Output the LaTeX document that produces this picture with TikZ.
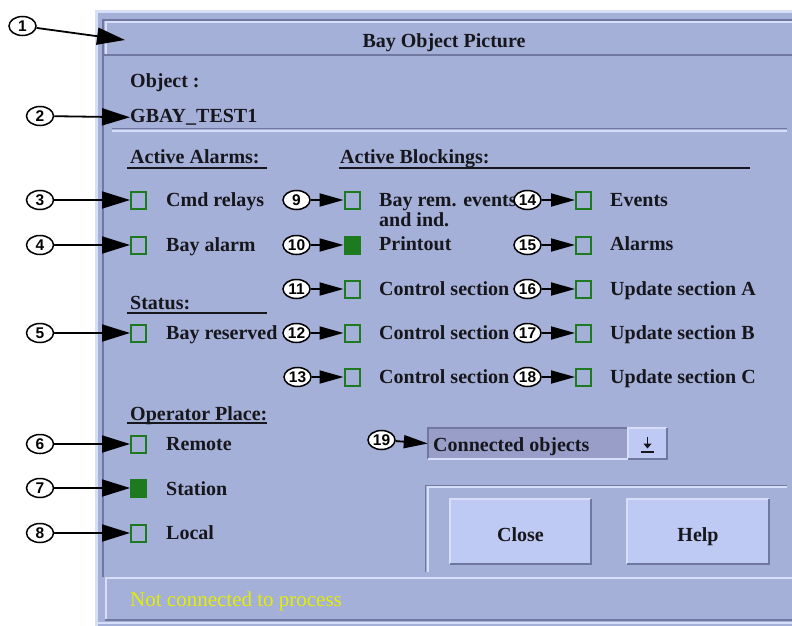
\documentclass[tikz,border=0pt]{standalone}
\usepackage{fontspec}
\setmainfont{Liberation Serif}
\newfontfamily\calloutfamily{Liberation Sans}
\usetikzlibrary{arrows.meta,shapes.geometric}

\definecolor{panel}{RGB}{164,176,215}
\definecolor{hilite}{RGB}{214,222,248}
\definecolor{shade}{RGB}{112,120,160}
\definecolor{btnface}{RGB}{190,202,243}
\definecolor{fieldface}{RGB}{152,158,200}
\definecolor{chk}{RGB}{30,122,30}
\definecolor{msg}{RGB}{228,238,0}
\definecolor{ink}{RGB}{22,22,28}

\begin{document}
\begin{tikzpicture}[x=1pt,y=-1pt,
  uitext/.style={font=\fontsize{20}{21}\selectfont\bfseries, text=ink, inner sep=0pt},
  lbl/.style={uitext, anchor=base west},
  chkbox/.style={draw=chk, line width=2pt, minimum width=15pt, minimum height=17pt, inner sep=0pt},
  chkon/.style={chkbox, fill=chk},
  callout/.style={ellipse, draw, line width=1.5pt, fill=white, minimum width=27pt,
    minimum height=19pt, inner sep=0pt, font=\calloutfamily\fontsize{15.5}{15.5}\selectfont\bfseries},
  bigarrow/.style={line width=1.8pt, -{Triangle[length=28pt,width=17pt]}},
  smallarrow/.style={line width=1.8pt, -{Triangle[length=24pt,width=13pt]}},
  underline/.style={line width=1.5pt, draw=ink},
  darkedge/.style={draw=shade, line width=1.5pt},
  lightedge/.style={draw=hilite, line width=2pt},
  btn/.style={fill=btnface, minimum width=141pt, minimum height=65pt, inner sep=0pt}
]
\useasboundingbox (0,0) rectangle (792,626);
\fill[white] (0,0) rectangle (792,626);

% ---- window body and frame ----
\fill[panel] (95,10) rectangle (792,626);
\draw[hilite, line width=3pt] (96.5,626) -- (96.5,11.5) -- (792,11.5);
\draw[darkedge] (103,577) -- (103,20) -- (792,20);
\draw[lightedge] (105.5,55) -- (105.5,22.5) -- (792,22.5);
\draw[darkedge] (103,55) -- (792,55);

% title
\node[uitext, anchor=base] (title) at (444,48) {Bay Object Picture};
\coordinate (titlept) at (125,40);

% object name
\node[lbl] (objlbl) at (130,87) {Object :};
\node[lbl] (objname) at (130,122.5) {GBAY\_TEST1};

% separator
\draw[darkedge, line width=1.2pt] (112,128.5) -- (787,128.5);
\draw[lightedge] (112,131) -- (787,131);

% ---- headings ----
\node[lbl] (hAlarms) at (130,163) {Active Alarms:};
\draw[underline] (127,168) -- (267,168);
\node[lbl] (hBlock) at (340,163) {Active Blockings:};
\draw[underline] (339,168) -- (750,168);
\node[lbl] (hStatus) at (130,309) {Status:};
\draw[underline] (127,313) -- (267,313);
\node[lbl] (hOper) at (130,420) {Operator Place:};
\draw[underline] (127,423) -- (267,423);

% ---- left column check boxes ----
\node[chkbox] (b3) at (138.5,200) {};
\node[chkbox] (b4) at (138.5,245) {};
\node[chkbox] (b5) at (138.5,333) {};
\node[chkbox] (b6) at (138.5,444) {};
\node[chkon]  (b7) at (138.5,488) {};
\node[chkbox] (b8) at (138.5,533) {};
\node[lbl] at (166,206) {Cmd relays};
\node[lbl] at (166,251) {Bay alarm};
\node[lbl] at (166,339) {Bay reserved};
\node[lbl] at (166,450) {Remote};
\node[lbl] at (166,495) {Station};
\node[lbl] at (166,539) {Local};

% ---- blockings, first column ----
\node[chkbox] (b9)  at (352,200) {};
\node[chkon]  (b10) at (352,245) {};
\node[chkbox] (b11) at (352,289) {};
\node[chkbox] (b12) at (352,333) {};
\node[chkbox] (b13) at (352,377) {};
\node[lbl] at (379,206) {Bay rem. events};
\node[lbl] at (379,226) {and ind.};
\node[lbl] at (379,250) {Printout};
\node[lbl] at (379,295) {Control section};
\node[lbl] at (379,339) {Control section};
\node[lbl] at (379,383) {Control section};

% ---- blockings, second column ----
\node[chkbox] (b14) at (583.5,200) {};
\node[chkbox] (b15) at (583.5,245) {};
\node[chkbox] (b16) at (583.5,289) {};
\node[chkbox] (b17) at (583.5,333) {};
\node[chkbox] (b18) at (583.5,377) {};
\node[lbl] at (610,206) {Events};
\node[lbl] at (610,250) {Alarms};
\node[lbl] at (610,295) {Update section A};
\node[lbl] at (610,339) {Update section B};
\node[lbl] at (610,383) {Update section C};

% ---- combo box ----
\node[fill=fieldface, minimum width=200pt, minimum height=31pt, inner sep=0pt] (combo) at (528,443.5) {};
\draw[darkedge] (combo.south west) -- (combo.north west) -- (combo.north east);
\draw[lightedge] (combo.south west) -- (combo.south east);
\node[lbl] at (433,451.5) {Connected objects};
\node[fill=btnface, minimum width=39pt, minimum height=31pt, inner sep=0pt] (drop) at (647.5,443.5) {};
\draw[lightedge] (drop.south west) -- (drop.north west) -- (drop.north east);
\draw[darkedge] (drop.south west) -- (drop.south east) -- (drop.north east);
\draw[ink, line width=1.5pt, -{Triangle[length=5pt,width=8pt]}] (drop.center) ++(0,-7) -- ++(0,12);
\draw[ink, line width=1.5pt] (drop.center) ++(-6.5,8.5) -- ++(13,0);

% ---- button group ----
\draw[darkedge, line width=1pt] (425.5,572) -- (425.5,485) -- (787,485);
\draw[lightedge] (427.5,572) -- (427.5,487) -- (787,487);
\node[btn] (close) at (520.5,531.5) {};
\draw[lightedge] (close.south west) -- (close.north west) -- (close.north east);
\draw[darkedge, line width=2pt] (close.south west) -- (close.south east) -- (close.north east);
\node[uitext, anchor=base] at (520.5,541) {Close};
\node[btn] (help) at (698,531.5) {};
\draw[lightedge] (help.south west) -- (help.north west) -- (help.north east);
\draw[darkedge, line width=2pt] (help.south west) -- (help.south east) -- (help.north east);
\node[uitext, anchor=base] at (698,541) {Help};

% ---- status bar ----
\draw[lightedge] (105.5,620) -- (105.5,578) -- (792,578);
\draw[darkedge] (105,620) -- (792,620);
\draw[lightedge] (98,623) -- (792,623);
\node[anchor=base west, inner sep=0pt, text=msg, font=\fontsize{21}{22}\selectfont] (status) at (130,606) {Not connected to process};

% ---- callouts ----
\node[callout] (c1) at (22.5,26) {1};
\node[callout] (c2) at (40,116) {2};
\node[callout] (c3) at (40,200) {3};
\node[callout] (c4) at (40,245) {4};
\node[callout] (c5) at (40,333) {5};
\node[callout] (c6) at (40,444) {6};
\node[callout] (c7) at (40,488) {7};
\node[callout] (c8) at (40,533) {8};
\node[callout] (c9)  at (296.5,200) {9};
\node[callout] (c10) at (296.5,245) {10};
\node[callout] (c11) at (296.5,289) {11};
\node[callout] (c12) at (296.5,333) {12};
\node[callout] (c13) at (297.5,377) {13};
\node[callout] (c14) at (527.5,200) {14};
\node[callout] (c15) at (527.5,245) {15};
\node[callout] (c16) at (527.5,289) {16};
\node[callout] (c17) at (527.5,333) {17};
\node[callout] (c18) at (527.5,377) {18};
\node[callout] (c19) at (381.5,440) {19};

\draw[bigarrow] (c1) -- (titlept);
\draw[bigarrow] (c2) -- (objname.west);
\foreach \i in {3,...,8} { \draw[bigarrow] (c\i) -- (b\i.west); }
\foreach \i in {9,...,18} { \draw[smallarrow] (c\i) -- (b\i.west); }
\draw[smallarrow] (c19) -- (combo.west);
\end{tikzpicture}
\end{document}
